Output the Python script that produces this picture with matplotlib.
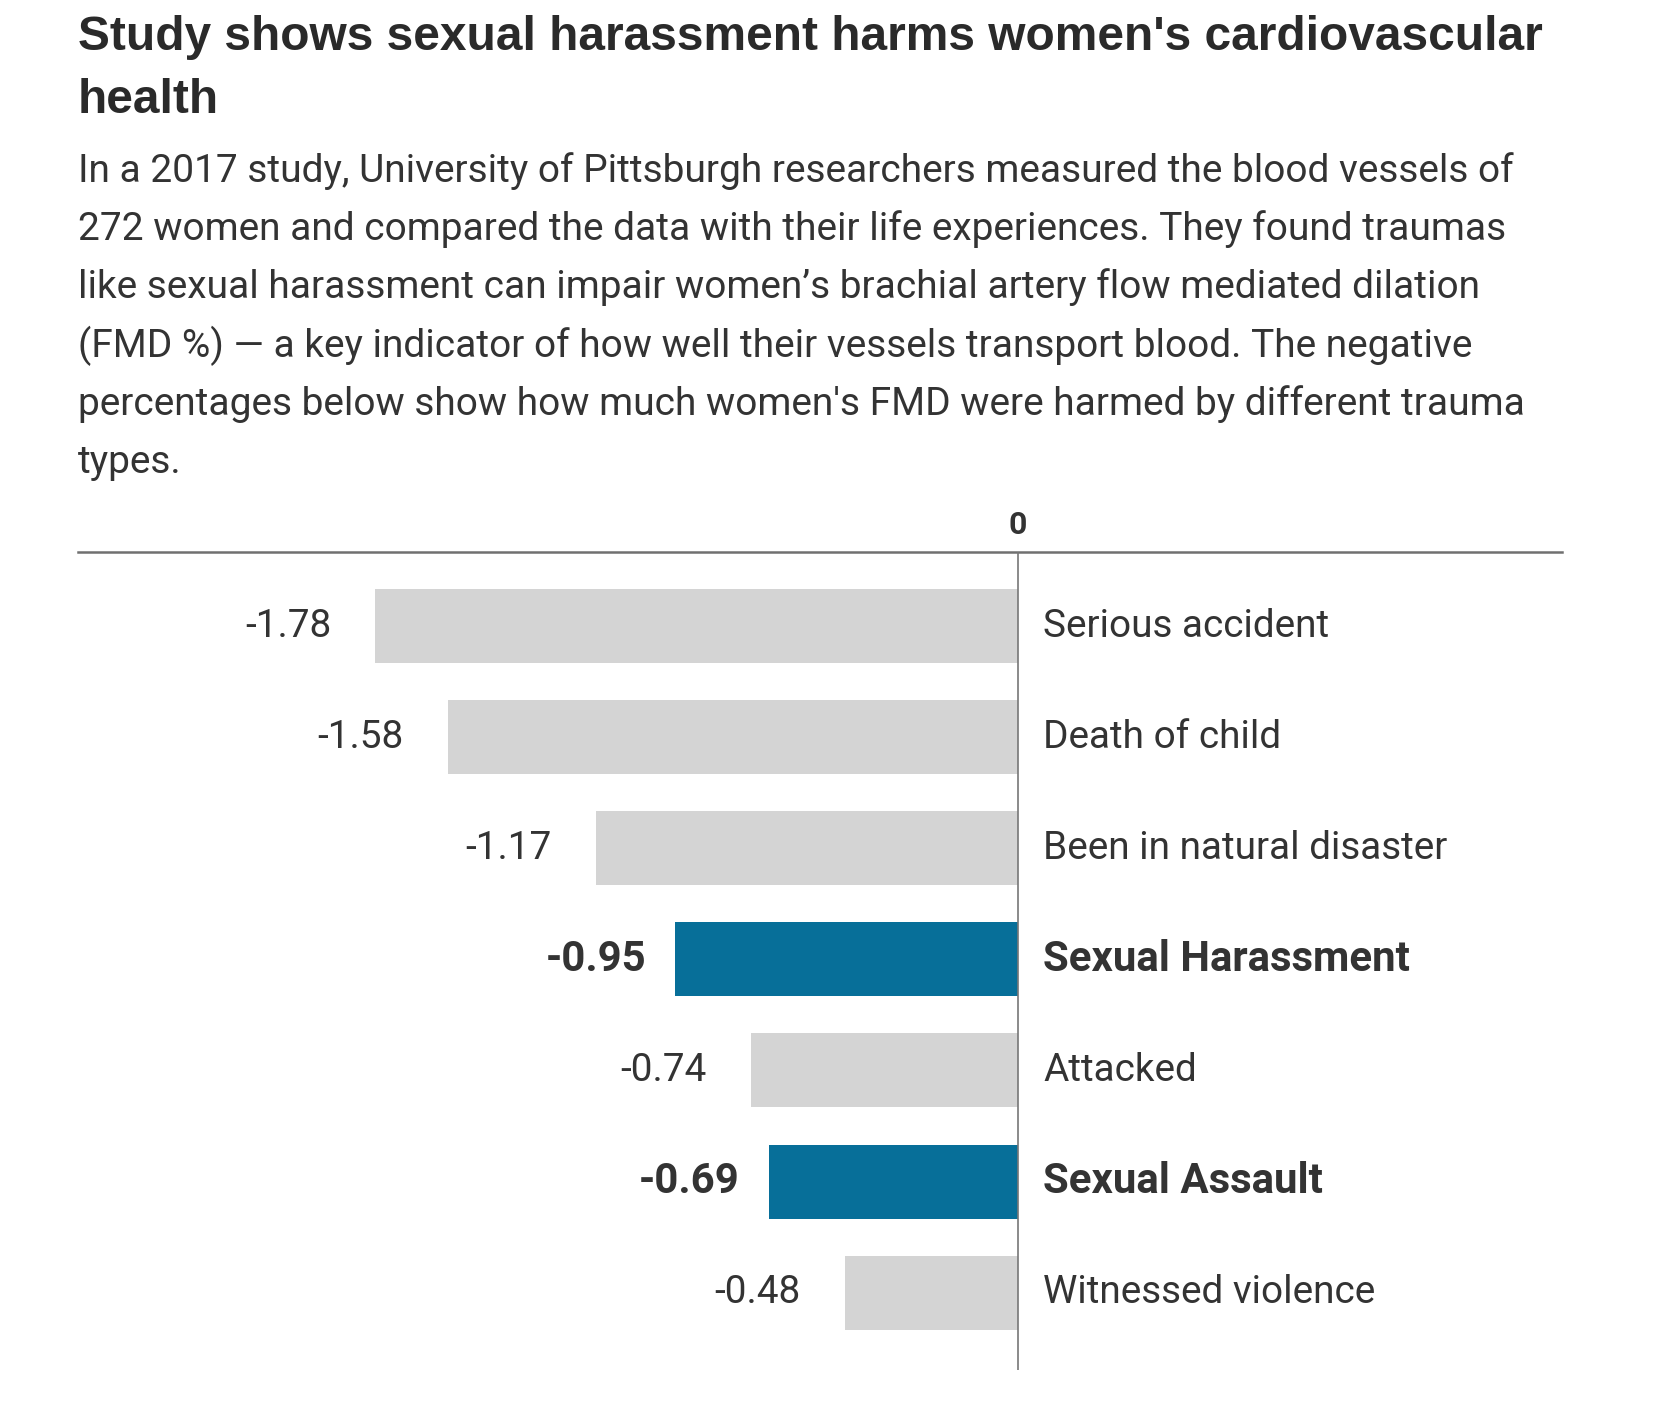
import numpy as np
import matplotlib
matplotlib.use("Agg")
import matplotlib.pyplot as plt

# data
categories = ["Serious accident", "Death of child", "Been in natural disaster",
              "Sexual Harassment", "Attacked", "Sexual Assault", "Witnessed violence"]
fmd_change = [-1.78, -1.58, -1.17, -0.95, -0.74, -0.69, -0.48]
highlight = [False, False, False, True, False, True, False]

title_lines = ["Study shows sexual harassment harms women's cardiovascular", "health"]
body_lines = [
    "In a 2017 study, University of Pittsburgh researchers measured the blood vessels of",
    "272 women and compared the data with their life experiences. They found traumas",
    "like sexual harassment can impair women\u2019s brachial artery flow mediated dilation",
    "(FMD %) \u2014 a key indicator of how well their vessels transport blood. The negative",
    "percentages below show how much women's FMD were harmed by different trauma",
    "types.",
]

W, H = 1658, 1415
fig = plt.figure(figsize=(W / 100, H / 100), dpi=100)
fig.patch.set_facecolor("white")
renderer = fig.canvas.get_renderer()

def fx(x):
    return x / W

def fy(y):
    return 1 - y / H

def fit(t, target):
    # scale font so the text spans target pixels
    w = t.get_window_extent(renderer).width
    t.set_fontsize(t.get_fontsize() * target / w)
    return t.get_fontsize()

TITLE_FONT = "Liberation Sans"
BODY_FONT = "Roboto"
LEFT = 78

# title
t = fig.text(fx(LEFT), fy(50), title_lines[0], family=TITLE_FONT, weight="bold",
             fontsize=30, color="#2a2a2a", va="baseline")
tsize = fit(t, 1466)
fig.text(fx(LEFT), fy(113), title_lines[1], family=TITLE_FONT, weight="bold",
         fontsize=tsize, color="#2a2a2a", va="baseline")

# description
b = fig.text(fx(LEFT), fy(182), body_lines[0], family=BODY_FONT, fontsize=24,
             color="#333333", va="baseline")
bsize = fit(b, 1435)
for i, line in enumerate(body_lines[1:], start=1):
    fig.text(fx(LEFT), fy(182 + 58.2 * i), line, family=BODY_FONT, fontsize=bsize,
             color="#333333", va="baseline")

# chart area
ax_left, ax_right, ax_top, ax_bottom = LEFT, 1562, 552, 1370
zero_x = 1018
px_per_unit = 361.0
row = 111.1
ax = fig.add_axes([fx(ax_left), fy(ax_bottom), (ax_right - ax_left) / W,
                   (ax_bottom - ax_top) / H])
ax.set_xlim(-(zero_x - ax_left) / px_per_unit, (ax_right - zero_x) / px_per_unit)
top_gap = 74 / row
ax.set_ylim((ax_bottom - ax_top) / row - top_gap, -top_gap)

y = np.arange(len(categories))
colors = ["#076f99" if h else "#d4d4d4" for h in highlight]
ax.barh(y, fmd_change, height=74 / row, color=colors, zorder=2)
ax.axvline(0, color="#777777", lw=1.2, zorder=3)

for spine in ["left", "right", "bottom"]:
    ax.spines[spine].set_visible(False)
ax.spines["top"].set_color("#707070")
ax.spines["top"].set_linewidth(1.8)

ax.xaxis.tick_top()
ax.set_xticks([0])
ax.set_xticklabels(["0"], family=BODY_FONT, weight="bold", fontsize=23,
                   color="#333333")
ax.tick_params(axis="x", length=0, pad=9)
ax.set_yticks([])

pt = 72 / 100.0
vals = []
labs = []
for i, (v, c, h) in enumerate(zip(fmd_change, categories, highlight)):
    wt = "bold" if h else "normal"
    gap = 29 if h else 44
    a = ax.annotate(f"{v:.2f}", xy=(v, i), xytext=(-gap * pt, 0), textcoords="offset points",
                    ha="right", va="center", family=BODY_FONT, weight=wt,
                    fontsize=bsize, color="#333333")
    l = ax.annotate(c, xy=(0, i), xytext=(25 * pt, 0), textcoords="offset points",
                    ha="left", va="center", family=BODY_FONT, weight=wt,
                    fontsize=bsize, color="#333333")
    vals.append(a)
    labs.append(l)

# label sizes from "Serious accident" and "Sexual Harassment"
lsize = fit(labs[0], 287)
bold_size = fit(labs[3], 367)
for a, l, h in zip(vals, labs, highlight):
    s = bold_size if h else lsize
    a.set_fontsize(s)
    l.set_fontsize(s)

fig.savefig("out.png", dpi=100, facecolor="white")
